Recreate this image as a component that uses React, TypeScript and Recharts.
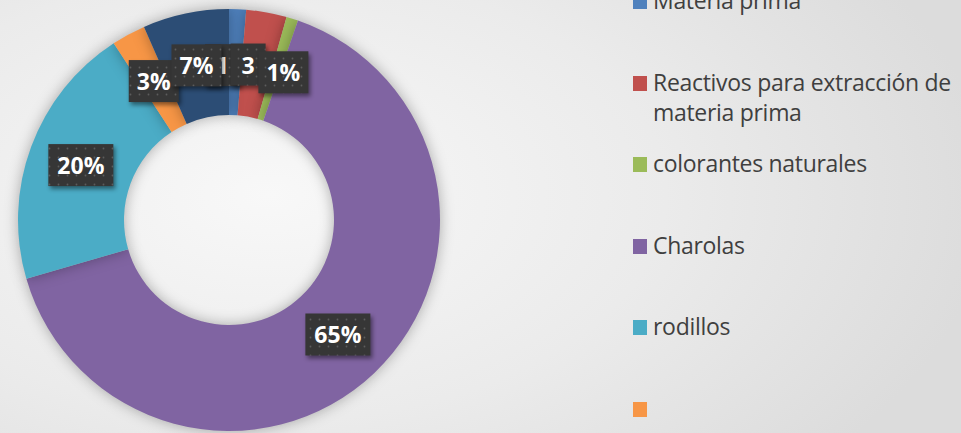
import { PieChart, Pie, Cell, Legend } from 'recharts'

const categories = [
  'Materia prima',
  'Reactivos para extracción de materia prima',
  'colorantes naturales',
  'Charolas',
  'rodillos',
  '',
  '',
]
const shares = [1.3, 3.1, 0.9, 65.2, 20.3, 2.6, 6.6]
const sliceLabels = ['1', '3', '1%', '65%', '20%', '3%', '7%']
const colors = ['#4f81bd', '#c0504d', '#9bbb59', '#8064a2', '#4bacc6', '#f79646', '#2c4d75']

// small sideways shift so the crowded labels at the top don't hide each other
const labelNudge = [
  [-13, 3],
  [-9, 0],
  [7, 3],
  [0, 0],
  [0, 0],
  [0, 0],
  [0, 0],
]

const data = categories.map((name, i) => ({ name, value: shares[i] }))

const RAD = Math.PI / 180

const renderLabel = (props: any) => {
  const { cx, cy, midAngle, innerRadius, outerRadius, index } = props
  const r = (innerRadius + outerRadius) / 2
  const x = cx + r * Math.cos(-midAngle * RAD) + labelNudge[index][0]
  const y = cy + r * Math.sin(-midAngle * RAD) + labelNudge[index][1]
  const text = sliceLabels[index]
  const w = text.length * 15 + 20
  const h = 42
  return (
    <g className="slice-label">
      <rect x={x - w / 2} y={y - h / 2} width={w} height={h} fill="url(#dots)" />
      <text
        x={x}
        y={y}
        textAnchor="middle"
        dominantBaseline="central"
        fill="#ffffff"
        fontFamily="'Open Sans', sans-serif"
        fontWeight={700}
        fontSize={23}
      >
        {text}
      </text>
    </g>
  )
}

const renderLegend = () => (
  <div style={{ position: 'relative', width: 328, height: 600 }}>
    {categories.map((name, i) => (
      <div
        key={i}
        style={{
          position: 'absolute',
          top: i * 81.5,
          left: 0,
          display: 'flex',
          alignItems: 'flex-start',
        }}
      >
        <span
          style={{
            width: 14,
            height: 15,
            marginTop: 9,
            marginRight: 6,
            background: colors[i],
            flexShrink: 0,
          }}
        />
        <span
          style={{
            width: 308,
            fontFamily: "'Open Sans', sans-serif",
            fontSize: 23,
            lineHeight: '30px',
            color: '#3f3f3f',
            letterSpacing: -0.3,
          }}
        >
          {name}
        </span>
      </div>
    ))}
  </div>
)

export default function App() {
  return (
    <div
      style={{
        position: 'absolute',
        left: 0,
        top: 0,
        width: 961,
        height: 433,
        overflow: 'hidden',
        background:
          'radial-gradient(ellipse 75% 95% at 28% 45%, #f8f8f8 0%, #ebebeb 55%, #dcdcdc 100%)',
      }}
    >
      <style>{`
        .recharts-pie-sector { filter: drop-shadow(0 0 7px rgba(0,0,0,0.3)); }
        .slice-label rect { filter: drop-shadow(2px 3px 2px rgba(0,0,0,0.45)); }
      `}</style>
      <PieChart width={961} height={433} margin={{ top: 0, right: 0, bottom: 0, left: 0 }}>
        <defs>
          <pattern id="dots" width="9" height="9" patternUnits="userSpaceOnUse">
            <rect width="9" height="9" fill="#363636" />
            <circle cx="4.5" cy="4.5" r="0.9" fill="#5c5c5c" />
          </pattern>
        </defs>
        <Pie
          data={data}
          dataKey="value"
          nameKey="name"
          cx={229}
          cy={220}
          innerRadius={105}
          outerRadius={211}
          startAngle={90}
          endAngle={-270}
          stroke="none"
          labelLine={false}
          label={renderLabel}
          isAnimationActive={false}
        >
          {data.map((_, i) => (
            <Cell key={i} fill={colors[i]} />
          ))}
        </Pie>
        <Legend
          layout="vertical"
          content={renderLegend}
          wrapperStyle={{ position: 'absolute', left: 633, top: -15, width: 328 }}
        />
      </PieChart>
    </div>
  )
}
